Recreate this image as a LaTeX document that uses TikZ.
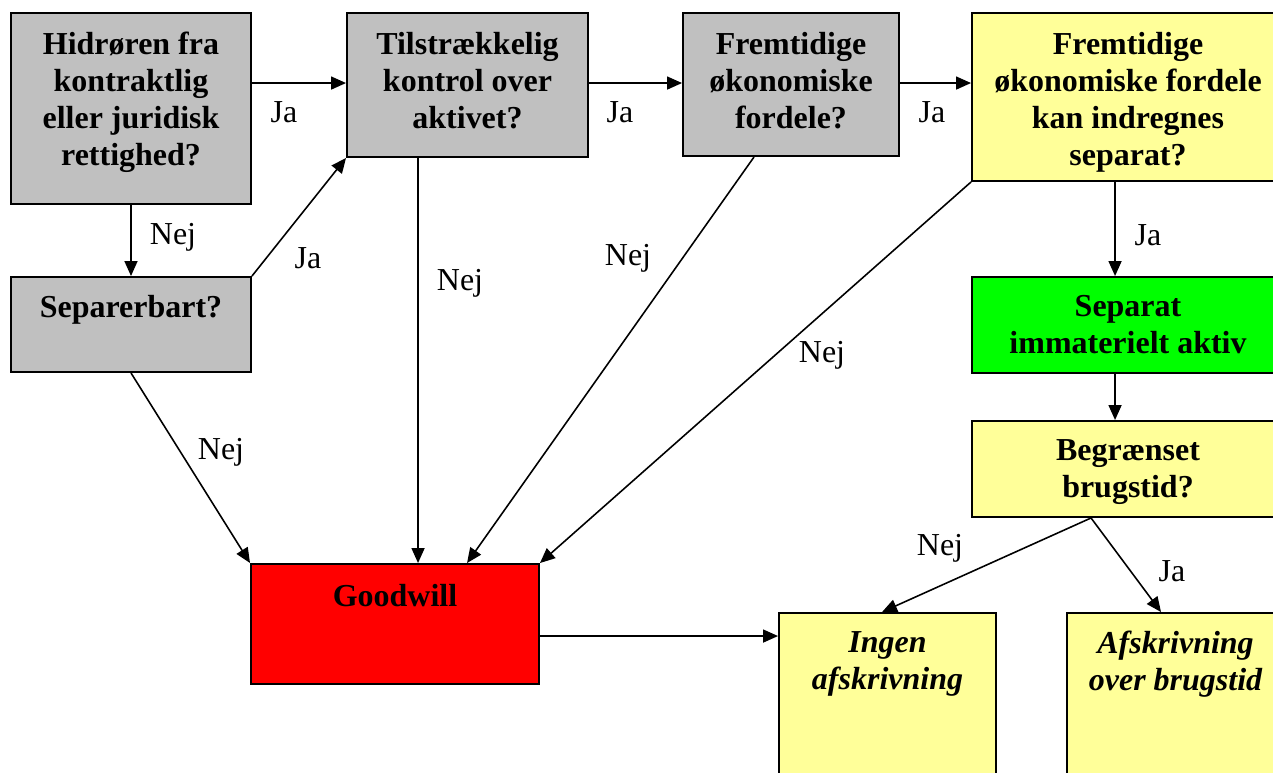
\documentclass[tikz,border=0pt]{standalone}
\usepackage{fontspec}
\setmainfont{Liberation Serif}
\usetikzlibrary{arrows.meta,calc,fit}
\definecolor{boxgray}{HTML}{C0C0C0}
\definecolor{boxyellow}{HTML}{FFFF99}
\definecolor{boxgreen}{HTML}{00FF00}
\definecolor{boxred}{HTML}{FF0000}
\begin{document}
\begin{tikzpicture}[x=0.02cm,y=-0.02cm,
  box/.style={draw=black,line width=1.1pt,inner sep=0pt},
  txt/.style={font=\fontsize{18.2}{21}\selectfont\bfseries,align=center,inner sep=0pt,anchor=north},
  itxt/.style={txt,font=\fontsize{18.2}{21}\selectfont\bfseries\itshape},
  lbl/.style={font=\fontsize{18.2}{21}\selectfont,inner sep=0pt},
  arr/.style={line width=0.9pt,-{Triangle[length=0.3cm,width=0.26cm]}},
  ]
\useasboundingbox (0,0) rectangle (1273,773);
\clip (0,0) rectangle (1273,773);

% decision boxes
\node[box,fill=boxgray,fit={(11,13) (251,204)}] (b1) {};
\node[box,fill=boxgray,fit={(347,13) (588,157)}] (b2) {};
\node[box,fill=boxgray,fit={(683,13) (899,156)}] (b3) {};
\node[box,fill=boxyellow,fit={(972,13) (1284,181)}] (b4) {};
\node[box,fill=boxgray,fit={(11,277) (251,372)}] (sep) {};
\node[box,fill=boxgreen,fit={(972,277) (1284,373)}] (sia) {};
\node[box,fill=boxyellow,fit={(972,421) (1284,517)}] (beg) {};
\node[box,fill=boxred,fit={(251,564) (539,684)}] (gw) {};
\node[box,fill=boxyellow,fit={(779,613) (996,790)}] (ing) {};
\node[box,fill=boxyellow,fit={(1067,613) (1284,790)}] (afs) {};

% box texts
\node[txt] (t1) at ($(b1.north)+(0,20)$) {Hidrøren fra\\kontraktlig\\eller juridisk\\rettighed?};
\node[txt] (t2) at ($(b2.north)+(0,20)$) {Tilstrækkelig\\kontrol over\\aktivet?};
\node[txt] (t3) at ($(b3.north)+(0,20)$) {Fremtidige\\økonomiske\\fordele?};
\node[txt] (t4) at ($(b4.north)+(0,20)$) {Fremtidige\\økonomiske fordele\\kan indregnes\\separat?};
\node[txt] (tsep) at ($(sep.north)+(0,19)$) {Separerbart?};
\node[txt] (tsia) at ($(sia.north)+(0,19)$) {Separat\\immaterielt aktiv};
\node[txt] (tbeg) at ($(beg.north)+(0,19)$) {Begrænset\\brugstid?};
\node[txt] (tgw) at ($(gw.north)+(0,21)$) {Goodwill};
\node[itxt] (ting) at ($(ing.north)+(0,19)$) {Ingen\\afskrivning};
\node[itxt] (tafs) at ($(afs.north)+(0,19)$) {Afskrivning\\over brugstid};

% connectors
\draw[arr] ($(b1.north east)+(0,71)$) -- ($(b2.north west)+(0,71)$);
\draw[arr] ($(b2.north east)+(0,71)$) -- ($(b3.north west)+(0,71)$);
\draw[arr] ($(b3.north east)+(0,71)$) -- ($(b4.north west)+(0,71)$);
\draw[arr] (b1.south) -- (sep.north);
\draw[arr] (sep.north east) -- (b2.south west);
\draw[arr] (sep.south) -- (gw.north west);
\draw[arr] ($(b2.south west)+(72,0)$) -- ($(gw.north west)+(168,0)$);
\draw[arr] ($(b3.south west)+(72,0)$) -- ($(gw.north west)+(217,0)$);
\draw[arr] (b4.south west) -- (gw.north east);
\draw[arr] ($(b4.south west)+(144,0)$) -- ($(sia.north west)+(144,0)$);
\draw[arr] ($(sia.south west)+(144,0)$) -- ($(beg.north west)+(144,0)$);
\draw[arr] ($(beg.south west)+(120,0)$) -- ($(ing.north west)+(104,0)$);
\draw[arr] ($(beg.south west)+(120,0)$) -- ($(afs.north west)+(95,0)$);
\draw[arr] ($(gw.north east)+(0,73)$) -- ($(ing.north west)+(0,24)$);

% answer labels
\node[lbl] (l1) at (284,112) {Ja};
\node[lbl] (l2) at (620,112) {Ja};
\node[lbl] (l3) at (932,112) {Ja};
\node[lbl] (l4) at (173,237) {Nej};
\node[lbl] (l5) at (308,258) {Ja};
\node[lbl] (l6) at (460,283) {Nej};
\node[lbl] (l7) at (628,258) {Nej};
\node[lbl] (l8) at (822,355) {Nej};
\node[lbl] (l9) at (221,452) {Nej};
\node[lbl] (l10) at (1148,235) {Ja};
\node[lbl] (l11) at (940,548) {Nej};
\node[lbl] (l12) at (1172,571) {Ja};
\end{tikzpicture}
\end{document}
